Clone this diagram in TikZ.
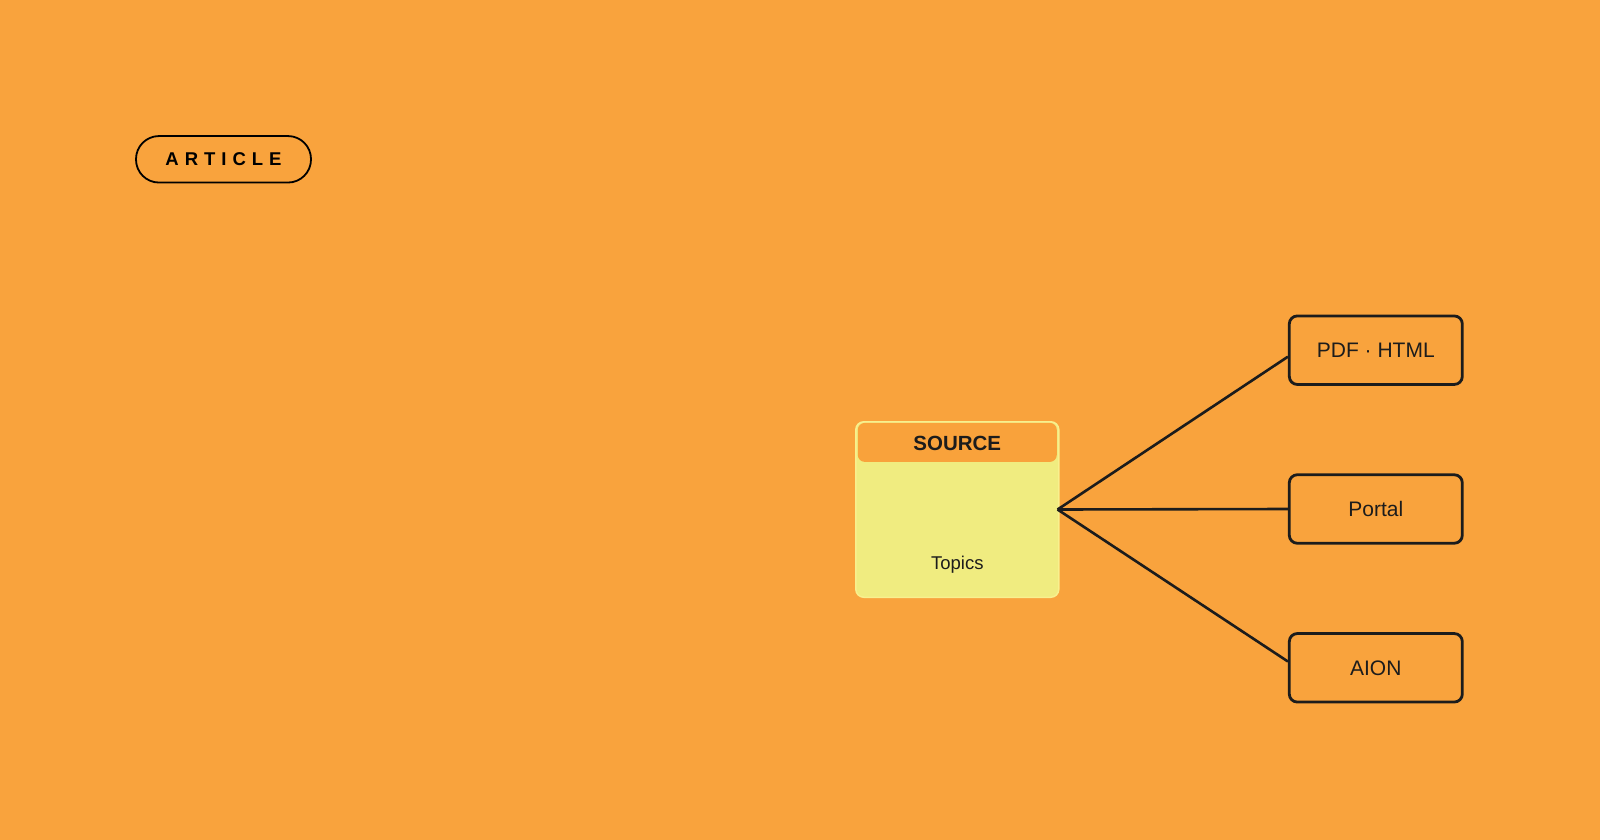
\documentclass[tikz,border=0pt]{standalone}
\usepackage{fontspec}
\setmainfont{Liberation Sans}
\usetikzlibrary{calc}
\definecolor{bgorange}{HTML}{F9A33D}
\definecolor{hdorange}{HTML}{F9A23B}
\definecolor{bodyyellow}{HTML}{F0EC80}
\definecolor{edgeyellow}{HTML}{F8F08E}
\definecolor{ink}{HTML}{1C1C1C}
\newcommand{\lsp}{\kern6pt}
\begin{document}
\begin{tikzpicture}[x=1pt,y=-1pt,
  pill/.style={draw=black,line width=1.8pt,rounded corners=23pt,minimum width=175pt,minimum height=46.5pt,inner sep=0pt,text=black,font=\fontsize{18.5}{20}\selectfont\bfseries},
  srcbox/.style={draw=edgeyellow,fill=bodyyellow,line width=1.5pt,rounded corners=8pt,minimum width=203pt,minimum height=175.5pt,inner sep=0pt},
  srchead/.style={fill=hdorange,rounded corners=7pt,minimum width=199pt,minimum height=39pt,inner sep=0pt},
  headlabel/.style={text=ink,inner sep=0pt,font=\fontsize{20.5}{24}\selectfont\bfseries},
  outbox/.style={draw=ink,line width=2.8pt,rounded corners=8pt,minimum width=173pt,minimum height=68.5pt,inner sep=0pt,text=ink,font=\fontsize{21}{25}\selectfont},
  plainlabel/.style={text=ink,inner sep=0pt,font=\fontsize{18.5}{22}\selectfont},
  conn/.style={draw=ink,line width=2.6pt}
]
\useasboundingbox[fill=bgorange] (0,0) rectangle (1600,840);
\node[pill] (article) at (223.5,159.3) {A\lsp R\lsp T\lsp I\lsp C\lsp L\lsp E};
\node[srcbox] (src) at (957.3,509.5) {};
\node[srchead] (srchd) at (957.3,442.4) {};
\node[headlabel] (srctitle) at (957.3,443.8) {SOURCE};
\node[plainlabel] (topics) at (957.3,564.5) {Topics};
\node[outbox] (pdf) at (1375.8,350.2) {PDF · HTML};
\node[outbox] (portal) at (1375.8,509) {Portal};
\node[outbox] (aion) at (1375.8,667.8) {AION};
\coordinate (j) at ($(src.east)+(-2,0)$);
\draw[conn] (j) -- ($(pdf.west)+(0,6.5)$);
\draw[conn] (j) -- (portal.west);
\draw[conn] (j) -- ($(aion.west)+(0,-6.3)$);
\end{tikzpicture}
\end{document}
